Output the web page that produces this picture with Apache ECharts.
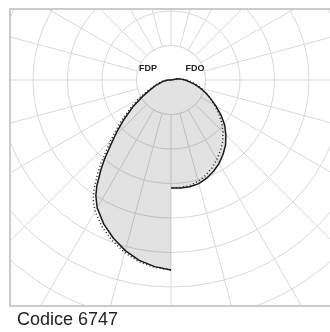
<!DOCTYPE html>
<html>
<head>
<meta charset="utf-8">
<script src="https://cdn.jsdelivr.net/npm/echarts@6/dist/echarts.min.js"></script>
<style>
html,body{margin:0;padding:0;background:#fff;}
#c{width:330px;height:332px;}
</style>
</head>
<body>
<div id="c"></div>
<script>
// Gamma angles (deg from nadir) and intensities (grid-ring units)
const leftAngles = [0,5,10,15,20,25,30,33,35,38,40,43,46,50,55,60,65,70,75,80,90,180];
const solidLeft  = [5.51,5.43,5.31,5.12,4.88,4.61,4.28,4.0,3.75,3.3,3.0,2.55,2.2,1.78,1.34,0.95,0.66,0.48,0.32,0.24,0.09,0];
const dottedLeft = [5.51,5.45,5.35,5.18,4.96,4.71,4.4,4.14,3.9,3.46,3.16,2.71,2.34,1.91,1.46,1.07,0.76,0.53,0.38,0.28,0.13,0];

const rightAngles = [0,5,10,15,20,25,30,35,40,45,50,55,60,65,70,75,80,85,90,95,100,180];
const solidRight  = [3.13,3.14,3.14,3.11,3.03,2.92,2.79,2.63,2.46,2.25,2.03,1.77,1.50,1.26,1.06,0.86,0.69,0.52,0.41,0.29,0.2,0];
const dottedRight = [3.13,3.13,3.11,3.04,2.94,2.81,2.66,2.50,2.33,2.13,1.92,1.69,1.46,1.25,1.07,0.9,0.73,0.58,0.45,0.32,0.22,0];

const planeLabels = ['FDP', 'FDO'];
const caption = 'Codice 6747';

function build(leftR, rightR) {
  const pts = [];
  for (let i = 0; i < leftAngles.length; i++) pts.push([leftR[i], leftAngles[i]]);
  for (let i = rightAngles.length - 1; i >= 0; i--) pts.push([rightR[i], 360 - rightAngles[i]]);
  return pts;
}

const chart = echarts.init(document.getElementById('c'), null, {renderer: 'canvas'});
const gridColor = '#d9d9d9';
chart.setOption({
  animation: false,
  backgroundColor: '#ffffff',
  polar: {center: [171, 80], radius: 276},
  angleAxis: {
    type: 'value', min: 0, max: 360, interval: 15, startAngle: 270, clockwise: true,
    axisLine: {show: false}, axisTick: {show: false}, axisLabel: {show: false},
    splitLine: {show: true, lineStyle: {color: gridColor, width: 1}}
  },
  radiusAxis: {
    type: 'value', min: 0, max: 8, interval: 1,
    axisLine: {show: false}, axisTick: {show: false}, axisLabel: {show: false},
    splitLine: {show: true, lineStyle: {color: gridColor, width: 1}}
  },
  series: [
    {
      type: 'line', coordinateSystem: 'polar', name: planeLabels[1],
      data: build(solidLeft, solidRight), symbol: 'none', smooth: false, z: 3,
      lineStyle: {color: '#1a1a1a', width: 1.5},
      areaStyle: {color: 'rgba(0,0,0,0.115)', opacity: 1}
    },
    {
      type: 'line', coordinateSystem: 'polar', name: planeLabels[0],
      data: build(dottedLeft, dottedRight), symbol: 'none', smooth: false, z: 4,
      lineStyle: {color: '#222', width: 1.5, type: [1, 2.5]}
    }
  ],
  graphic: [
    {type: 'circle', z: 1, shape: {cx: 171, cy: 80, r: 34.5}, style: {fill: '#fff', stroke: gridColor, lineWidth: 1}},
    {type: 'rect', z: 50, shape: {x: 0, y: 0, width: 330, height: 8}, style: {fill: '#fff'}},
    {type: 'rect', z: 50, shape: {x: 0, y: 0, width: 9, height: 332}, style: {fill: '#fff'}},
    {type: 'rect', z: 50, shape: {x: 0, y: 307, width: 330, height: 25}, style: {fill: '#fff'}},
    {type: 'polyline', z: 60, shape: {points: [[332, 9], [10, 9], [10, 306], [332, 306]]}, style: {stroke: '#cccccc', lineWidth: 2, fill: null}},
    {type: 'text', z: 60, x: 148, y: 69, style: {text: planeLabels[0], fill: '#222', font: 'bold 9px "Liberation Sans", Arial, sans-serif', textAlign: 'center', textVerticalAlign: 'middle'}},
    {type: 'text', z: 60, x: 195, y: 69, style: {text: planeLabels[1], fill: '#222', font: 'bold 9px "Liberation Sans", Arial, sans-serif', textAlign: 'center', textVerticalAlign: 'middle'}},
    {type: 'text', z: 60, x: 17, y: 320, style: {text: caption, fill: '#222', font: '18px "Liberation Sans", Arial, sans-serif', textAlign: 'left', textVerticalAlign: 'middle'}}
  ]
});
</script>
</body>
</html>
